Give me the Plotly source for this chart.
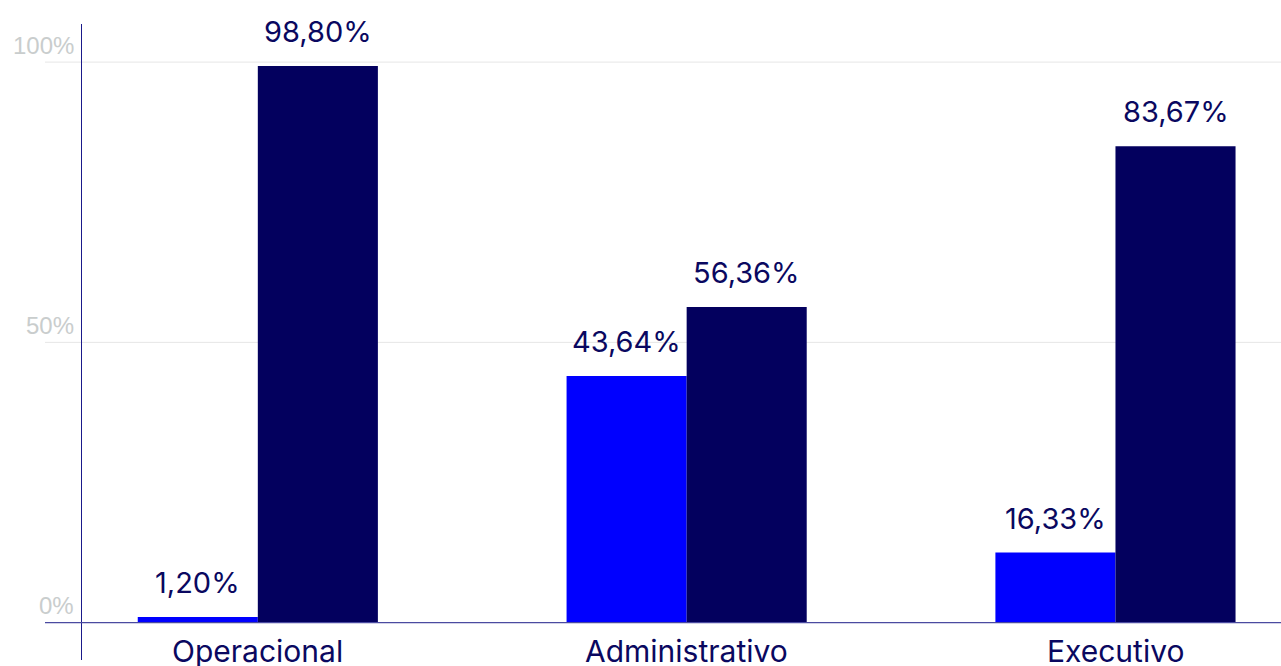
import plotly.graph_objects as go

categories = ["Operacional", "Administrativo", "Executivo"]
blue_values = [1.0, 44.0, 12.5]
navy_values = [99.3, 56.3, 85.0]
blue_labels = ["1,20%", "43,64%", "16,33%"]
navy_labels = ["98,80%", "56,36%", "83,67%"]
y_ticks = [0, 50, 100]
y_tick_labels = ["0%", "50%", "100%"]

BLUE = "#0000ff"
NAVY = "#03005e"
TEXT = "#0a0860"
GRID = "#e6e6e6"
TICK = "#c9cdcd"
FONT = "Inter"

fig = go.Figure()
fig.add_trace(go.Bar(x=categories, y=blue_values, marker=dict(color=BLUE, line=dict(width=0)),
                     offsetgroup="a", hoverinfo="skip"))
fig.add_trace(go.Bar(x=categories, y=navy_values, marker=dict(color=NAVY, line=dict(width=0)),
                     offsetgroup="b", hoverinfo="skip"))

W, H = 1281, 666
L, R, T, B = 82, 0, 24, 6
xr = [-0.41, 2.386]
plot_w = W - L - R
grid_x0 = (45 - L) / plot_w

shapes = []
for v in y_ticks:
    if v == 0:
        continue
    shapes.append(dict(type="line", xref="paper", yref="y", x0=grid_x0, x1=1, y0=v, y1=v,
                       line=dict(color=GRID, width=1), layer="below"))
shapes.append(dict(type="line", xref="paper", yref="y", x0=grid_x0, x1=1, y0=0, y1=0,
                   line=dict(color="#4a4aa0", width=1.2), layer="above"))

annotations = []
for v, t in zip(y_ticks, y_tick_labels):
    annotations.append(dict(xref="paper", yref="y", x=(76 - L) / plot_w, y=v, text=t,
                            showarrow=False, xanchor="right", yanchor="middle", yshift=17,
                            font=dict(family="Liberation Sans, Arial", size=24, color=TICK)))

# category labels
for c in categories:
    annotations.append(dict(xref="x", yref="y", x=c, y=0, text=c, showarrow=False,
                            xanchor="center", yanchor="top", yshift=-8,
                            font=dict(family=FONT, size=30, color=TEXT)))

# value labels
group_w = 1 - 0.44
for i, c in enumerate(categories):
    annotations.append(dict(xref="x", yref="y", x=i - group_w / 4, y=blue_values[i], text=blue_labels[i],
                            showarrow=False, xanchor="center", yanchor="bottom", yshift=15,
                            font=dict(family=FONT, size=29, color=TEXT)))
    annotations.append(dict(xref="x", yref="y", x=i + group_w / 4, y=navy_values[i], text=navy_labels[i],
                            showarrow=False, xanchor="center", yanchor="bottom", yshift=15,
                            font=dict(family=FONT, size=29, color=TEXT)))

fig.update_layout(
    width=W, height=H,
    margin=dict(l=L, r=R, t=T, b=B, pad=0),
    paper_bgcolor="white", plot_bgcolor="white",
    barmode="group", bargap=0.44, bargroupgap=0,
    showlegend=False,
    xaxis=dict(type="category", range=xr, showticklabels=False, showgrid=False,
               zeroline=False, showline=False, ticks=""),
    yaxis=dict(range=[-6.66, 106.8], showticklabels=False, showgrid=False, zeroline=False,
               showline=True, linecolor="#1a1a8a", linewidth=1, ticks=""),
    shapes=shapes,
    annotations=annotations,
)

fig.write_html("out.html", config={"displayModeBar": False},
               post_script="document.body.style.margin='0';document.body.style.overflow='hidden';")
